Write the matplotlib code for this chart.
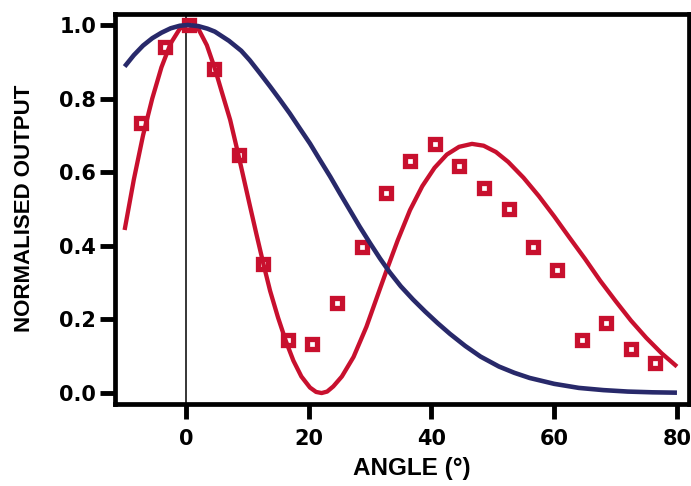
import matplotlib
matplotlib.use("Agg")
import matplotlib.pyplot as plt

# Measured data points (hollow squares)
meas_angle = [-7.4, -3.4, 0.5, 4.6, 8.6, 12.6, 16.6, 20.6, 24.6, 28.6, 32.6,
              36.5, 40.6, 44.5, 48.5, 52.6, 56.6, 60.5, 64.5, 68.5, 72.5, 76.5]
meas_output = [0.735, 0.940, 1.000, 0.880, 0.646, 0.351, 0.144, 0.132, 0.245,
               0.396, 0.543, 0.631, 0.676, 0.617, 0.556, 0.499, 0.396, 0.334,
               0.144, 0.189, 0.121, 0.081]

# Red model curve
red_angle = [-10.0, -8.5, -7.0, -5.5, -4.0, -2.5, -1.0, 0.3, 2.0, 3.4, 4.7,
             5.8, 7.2, 8.5, 10.4, 11.5, 12.6, 13.7, 15.0, 16.3, 17.5, 18.8,
             20.2, 21.2, 22.1, 23.0, 24.0, 25.4, 27.3, 29.4, 31.6, 32.7,
             34.5, 36.5, 38.5, 40.5, 42.5, 44.5, 46.6, 48.5, 50.5, 52.5,
             55.0, 57.5, 60.0, 62.5, 65.0, 67.5, 70.0, 72.5, 75.0, 77.5, 80.0]
red_output = [0.443, 0.58, 0.70, 0.80, 0.885, 0.95, 0.99, 1.0, 0.99, 0.945,
              0.882, 0.82, 0.742, 0.65, 0.51, 0.43, 0.352, 0.278, 0.205,
              0.14, 0.088, 0.045, 0.015, 0.003, 0.0, 0.004, 0.018, 0.045,
              0.098, 0.18, 0.283, 0.334, 0.415, 0.497, 0.562, 0.612, 0.648,
              0.669, 0.677, 0.672, 0.655, 0.628, 0.585, 0.535, 0.48, 0.422,
              0.365, 0.305, 0.25, 0.197, 0.15, 0.108, 0.072]

# Navy model curve
navy_angle = [-10.0, -8.5, -7.0, -5.5, -4.0, -2.5, -1.0, 0.3, 2.0, 3.5, 4.7,
              7.0, 9.0, 10.4, 12.0, 13.7, 15.3, 16.9, 18.5, 20.2, 21.8, 23.5,
              25.1, 26.7, 28.3, 30.0, 31.6, 33.2, 35.0, 37.0, 39.0, 41.0,
              43.0, 45.5, 48.0, 51.0, 53.5, 56.0, 60.0, 64.0, 68.0, 72.0,
              76.0, 80.0]
navy_output = [0.887, 0.918, 0.944, 0.964, 0.979, 0.991, 0.998, 1.0, 0.997,
               0.990, 0.982, 0.957, 0.930, 0.904, 0.870, 0.833, 0.797, 0.760,
               0.72, 0.678, 0.634, 0.588, 0.542, 0.497, 0.452, 0.407, 0.366,
               0.328, 0.29, 0.254, 0.221, 0.19, 0.161, 0.128, 0.099, 0.072,
               0.055, 0.041, 0.025, 0.014, 0.008, 0.004, 0.002, 0.001]

x_ticks = [0, 20, 40, 60, 80]
y_ticks = [0.0, 0.2, 0.4, 0.6, 0.8, 1.0]

RED = "#C8102E"
NAVY = "#28296A"

plt.rcParams["font.family"] = ["Liberation Sans", "DejaVu Sans"]
plt.rcParams["font.weight"] = "bold"

fig = plt.figure(figsize=(6.91, 4.86), dpi=100)
ax = fig.add_axes([0.1664, 0.1693, 0.997 - 0.1664, 0.9716 - 0.1693])

ax.axvline(0, color="black", lw=1.1, zorder=1)
ax.plot(red_angle, red_output, color=RED, lw=3.1, zorder=3,
        solid_joinstyle="round", solid_capstyle="butt")
ax.plot(meas_angle, meas_output, ls="none", marker="s", ms=7,
        mew=3.8, mec=RED, mfc="none", zorder=4)
ax.plot(navy_angle, navy_output, color=NAVY, lw=3.3, zorder=5,
        solid_joinstyle="round", solid_capstyle="butt")

ax.set_xlim(-11.57, 81.95)
ax.set_ylim(-0.029, 1.0304)
ax.set_xticks(x_ticks)
ax.set_yticks(y_ticks)
tick_font = {"family": ["DejaVu Sans"], "weight": "bold", "size": 15}
ax.set_xticklabels([str(v) for v in x_ticks], fontdict=tick_font)
ax.set_yticklabels([f"{v:.1f}" for v in y_ticks], fontdict=tick_font)

for s in ax.spines.values():
    s.set_linewidth(3.4)
ax.tick_params(axis="both", direction="out", length=10.5, width=3.5)
ax.tick_params(axis="x", pad=8)
ax.tick_params(axis="y", pad=3)

ax.set_xlabel("ANGLE (°)", fontsize=17.5, fontweight="bold")
ax.set_ylabel("NORMALISED OUTPUT", fontsize=16, fontweight="bold")
ax.xaxis.set_label_coords(0.518, -0.165)
ax.xaxis.label.set_verticalalignment("center")
ax.yaxis.set_label_coords(-0.158, 0.5)
ax.yaxis.label.set_verticalalignment("center")

fig.savefig("out.png", dpi=100)
